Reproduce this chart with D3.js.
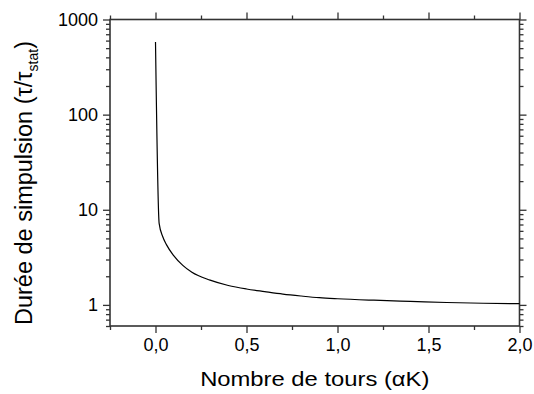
<!DOCTYPE html>
<html><head><meta charset="utf-8">
<script src="https://cdn.jsdelivr.net/npm/d3@7"></script>
<style>body{margin:0;background:#fff}text{font-family:"Liberation Sans",Arial,sans-serif}</style>
</head><body>
<svg id="c" width="534" height="394"></svg>
<script>
const xVals = [0, 0.02, 0.04, 0.06, 0.1, 0.15, 0.2, 0.3, 0.4, 0.5, 0.6, 0.7, 0.8, 0.9, 1.0, 1.2, 1.4, 1.6, 1.8, 2.0];
const yVals = [580, 7.2, 5.2, 4.3, 3.3, 2.6, 2.2, 1.82, 1.6, 1.47, 1.38, 1.30, 1.24, 1.19, 1.16, 1.12, 1.09, 1.06, 1.04, 1.03];
const xTicks = [0, 0.5, 1.0, 1.5, 2.0];
const xMinor = [-0.25, 0.25, 0.75, 1.25, 1.75];
const yTicks = [1, 10, 100, 1000];
const xTitle = "Nombre de tours (αK)";

const svg = d3.select("#c");
const L = 110, R = 519.5, T = 19.5, B = 326;
const x = d3.scaleLinear().domain([-0.25, 2.0]).range([L, R]);
const y = d3.scaleLog().domain([0.6, 1000]).range([B, T]);

const yMinor = [];
[0.1, 1, 10, 100].forEach(d => { for (let k = 2; k <= 9; k++) { const v = d * k; if (v >= 0.6 && v < 1000) yMinor.push(v); } });

const fmt = d => d.toFixed(1).replace(".", ",");
const col = "#333";

function axisGroup(gen, tr) {
  const g = svg.append("g").attr("transform", tr).call(gen);
  g.select(".domain").remove();
  g.selectAll("line").attr("stroke", col).attr("stroke-width", 1.3);
  return g;
}
const gb = axisGroup(d3.axisBottom(x).tickValues(xTicks).tickSize(7).tickPadding(5).tickFormat(fmt), `translate(0,${B})`);
gb.selectAll("text").attr("font-size", 18).attr("fill", "#000");
axisGroup(d3.axisBottom(x).tickValues(xMinor).tickSize(4).tickFormat(""), `translate(0,${B})`);
axisGroup(d3.axisTop(x).tickValues(xTicks).tickSize(7).tickFormat(""), `translate(0,${T})`);
axisGroup(d3.axisTop(x).tickValues(xMinor).tickSize(4).tickFormat(""), `translate(0,${T})`);
const gl = axisGroup(d3.axisLeft(y).tickValues(yTicks).tickSize(7).tickPadding(5).tickFormat(d3.format("d")), `translate(${L},0)`);
gl.selectAll("text").attr("font-size", 18).attr("fill", "#000");
axisGroup(d3.axisLeft(y).tickValues(yMinor).tickSize(4).tickFormat(""), `translate(${L},0)`);
axisGroup(d3.axisRight(y).tickValues(yTicks).tickSize(7).tickFormat(""), `translate(${R},0)`);
axisGroup(d3.axisRight(y).tickValues(yMinor).tickSize(4).tickFormat(""), `translate(${R},0)`);

svg.append("rect").attr("x", L).attr("y", T).attr("width", R - L).attr("height", B - T)
  .attr("fill", "none").attr("stroke", col).attr("stroke-width", 1.6);

const data = xVals.map((v, i) => [v, yVals[i]]);
svg.append("path").datum(data)
  .attr("d", d3.line().x(d => x(d[0])).y(d => y(d[1])).curve(d3.curveMonotoneX))
  .attr("fill", "none").attr("stroke", "#000").attr("stroke-width", 1.2);

svg.append("text").attr("transform", `translate(${(L + R) / 2},386) scale(1.19,1)`)
  .attr("text-anchor", "middle").attr("font-size", 20).text(xTitle);

const yt = svg.append("text").attr("transform", `translate(32,183) rotate(-90)`)
  .attr("text-anchor", "middle").attr("font-size", 23.5);
yt.append("tspan").text("Durée de simpulsion (τ/τ");
yt.append("tspan").attr("font-size", 14).attr("dy", 6).text("stat");
yt.append("tspan").attr("dy", -6).text(")");
</script>
</body></html>
